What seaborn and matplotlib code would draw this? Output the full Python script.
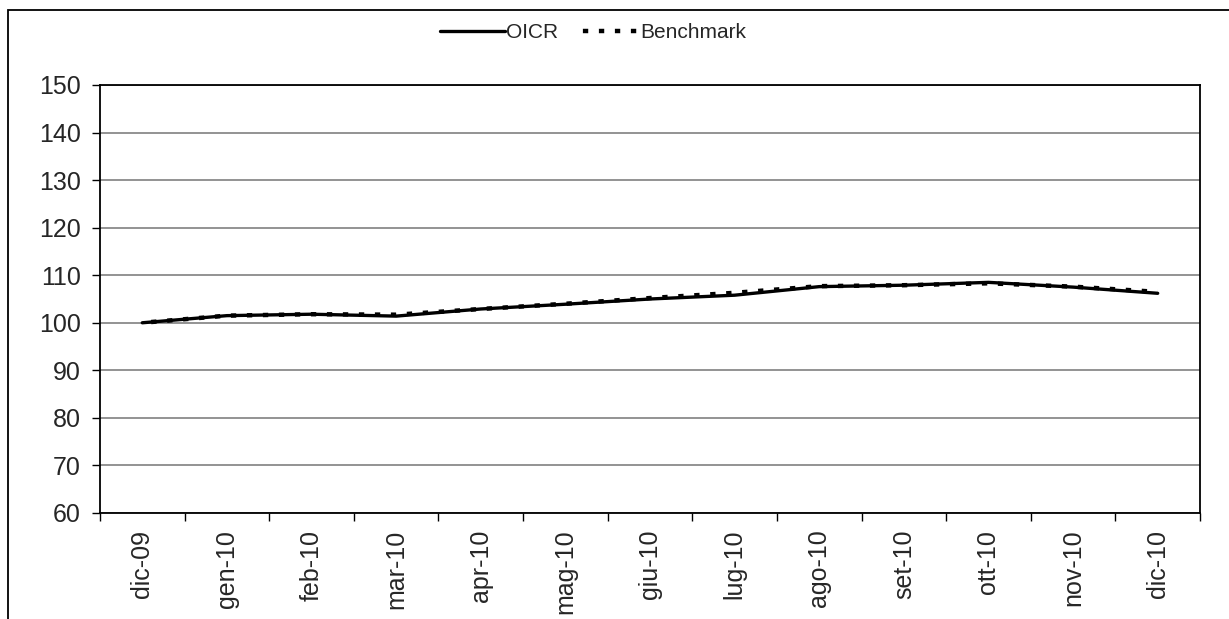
import pandas as pd
import matplotlib
matplotlib.use("Agg")
import matplotlib.pyplot as plt
from matplotlib.patches import Rectangle
from matplotlib.ticker import MultipleLocator, FixedLocator
import seaborn as sns

# data
months = ["dic-09", "gen-10", "feb-10", "mar-10", "apr-10", "mag-10", "giu-10",
          "lug-10", "ago-10", "set-10", "ott-10", "nov-10", "dic-10"]
oicr = [100.0, 101.5, 101.8, 101.4, 102.9, 103.9, 105.0, 105.8, 107.6, 107.9, 108.5, 107.5, 106.2]
benchmark = [100.0, 101.5, 101.8, 101.7, 102.9, 104.0, 105.2, 106.3, 107.7, 107.9, 108.3, 107.6, 106.5]

df = pd.DataFrame({"month": months, "OICR": oicr, "Benchmark": benchmark})
df["pos"] = range(len(months))

sns.set_style("white")
plt.rcParams["font.family"] = ["Liberation Sans", "DejaVu Sans"]

fig = plt.figure(figsize=(12.29, 6.19), dpi=100)
ax = fig.add_axes([100 / 1229, 1 - 513 / 619, 1100 / 1229, 428 / 619])

sns.lineplot(data=df, x="pos", y="OICR", ax=ax, color="black", linewidth=2.4,
             label="OICR")
sns.lineplot(data=df, x="pos", y="Benchmark", ax=ax, color="black", linewidth=3.2,
             linestyle=(1.6, (1.2, 2.4)), label="Benchmark")

ax.set_xlim(-0.5, len(months) - 0.5)
ax.set_ylim(60, 150)
ax.yaxis.set_major_locator(MultipleLocator(10))
ax.grid(axis="y", color="#808080", linewidth=1.2)
ax.set_axisbelow(True)

# labels at category centres, tick marks between categories
ax.set_xticks(df["pos"])
ax.set_xticklabels(months, rotation=90, fontsize=18)
ax.xaxis.set_minor_locator(FixedLocator([i - 0.5 for i in range(len(months) + 1)]))
ax.tick_params(axis="x", which="major", length=0, pad=12)
ax.tick_params(axis="x", which="minor", length=6, width=1, color="black", direction="out", bottom=True)
ax.tick_params(axis="y", length=6, width=1, color="black", direction="out", left=True,
               labelsize=18, pad=8)
ax.set_xlabel("")
ax.set_ylabel("")

for side in ["left", "bottom", "top", "right"]:
    ax.spines[side].set_visible(True)
    ax.spines[side].set_color("black")
    ax.spines[side].set_linewidth(1.3)

ax.legend_.remove()
handles, labels = ax.get_legend_handles_labels()
fig.legend(handles, labels, loc="center", bbox_to_anchor=(593 / 1229, 1 - 33 / 619),
           ncol=2, frameon=False, fontsize=15, handlelength=3.1, handletextpad=0.05,
           columnspacing=0.8)

# outer chart frame (cropped on right and bottom)
fig.add_artist(Rectangle((8 / 1229, -0.2), 1.2, 1.2 - 10 / 619, transform=fig.transFigure,
                         fill=False, edgecolor="black", linewidth=1.3))

fig.savefig("out.png", dpi=100)
